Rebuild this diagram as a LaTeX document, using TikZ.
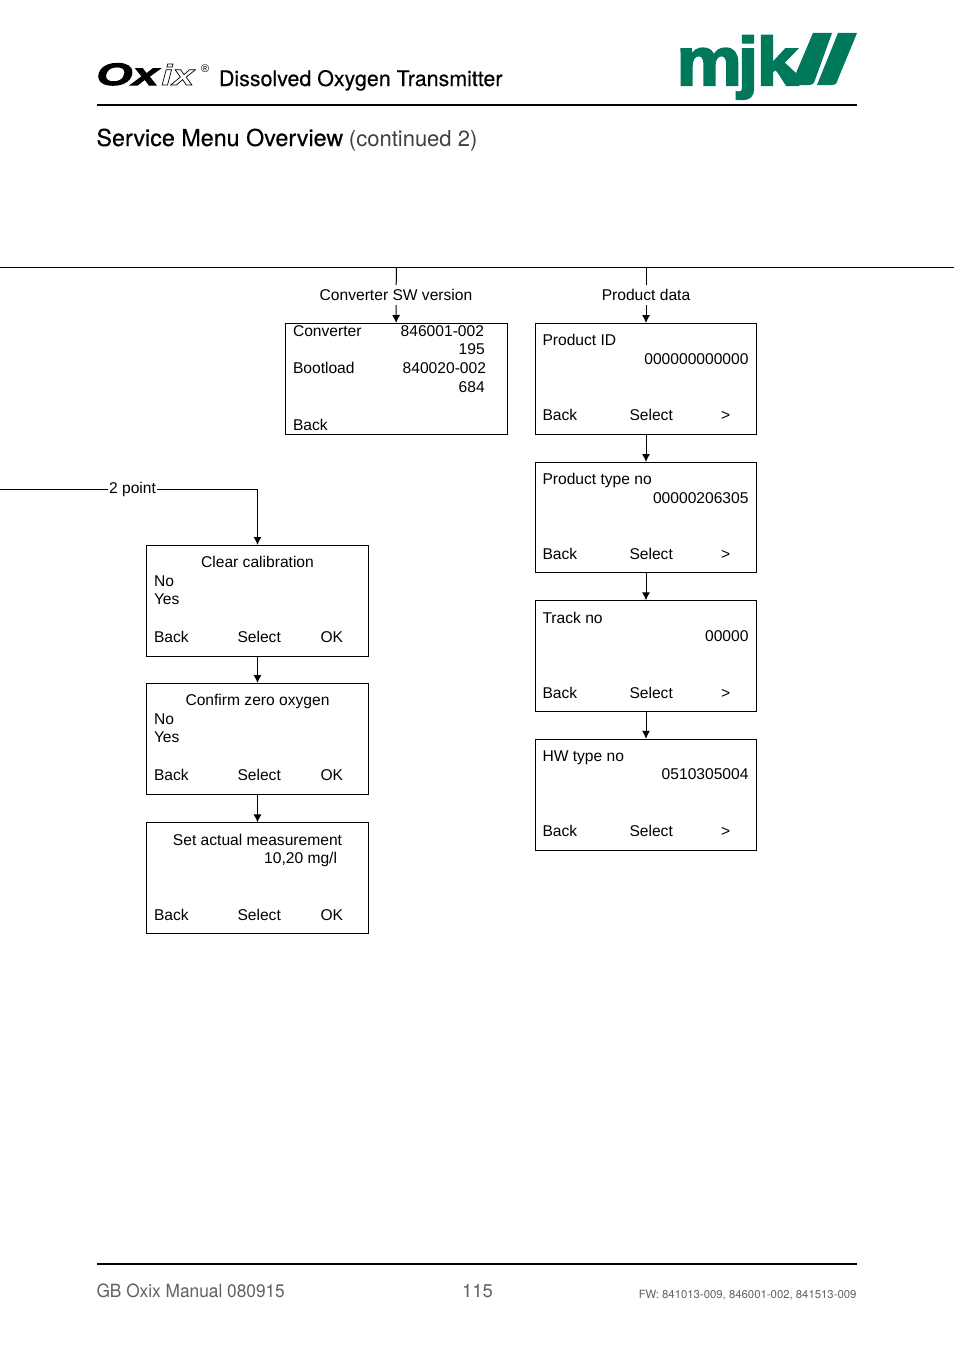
\documentclass[tikz,border=0pt]{standalone}
\usepackage{fontspec}
\usepackage{xcolor}
\usepackage{tikz}
\usetikzlibrary{arrows.meta}
\setmainfont{Liberation Sans}
\newfontfamily\headfont[FakeBold=0.35]{TeX Gyre Heros}
\newfontfamily\lightfont{TeX Gyre Heros}
\newfontfamily\footfont[FakeStretch=0.95]{TeX Gyre Heros}
\newfontfamily\logofont[FakeStretch=1.5,FakeBold=3.5]{Liberation Sans Bold Italic}
\newfontfamily\logoix[FakeStretch=1.35]{Liberation Sans Bold Italic}
\newfontfamily\mjkfont[FakeBold=3,FakeStretch=1.08]{Liberation Sans Bold}
\newcommand{\outlined}[1]{\special{pdf:code q 1 Tr 0.7 w}#1\special{pdf:code Q}}
\definecolor{mjkgreen}{HTML}{00785A}
\definecolor{footgray}{gray}{0.38}

\begin{document}
\begin{tikzpicture}[x=1pt,y=-1pt,>={Latex[length=8pt,width=8pt]},line width=1pt,
                    node distance = 138.5pt,
                    menu box/.style={draw,minimum width=222pt,minimum height=111pt,inner sep=0pt},
                    lbl/.style={inner sep=0pt,font=\fontsize{15.6}{18}\selectfont},
                    lft/.style={lbl,anchor=base west},
                    rgt/.style={lbl,anchor=base east},
                    mid/.style={lbl,anchor=base},
                    branch/.style={lbl,inner xsep=2pt,inner ysep=4pt}]
  \useasboundingbox (0,0) rectangle (954,1354);

  % header
  \node[inner sep=0pt,anchor=base west,font=\logofont\fontsize{31}{31}\selectfont] (oxlogo) at (96,85) {Ox};
  \node[inner sep=0pt,anchor=base west,font=\logoix\fontsize{29}{29}\selectfont] (ixlogo) at (161,85) {\outlined{ix}};
  \node[inner sep=0pt,anchor=base west,font=\fontsize{11}{11}\selectfont] (reg) at (200.5,72) {\textregistered};
  \node[inner sep=0pt,anchor=base west,font=\headfont\fontsize{21.4}{24}\selectfont] (title) at (218.5,86) {Dissolved Oxygen Transmitter};
  \node[inner sep=0pt,anchor=base west,font=\mjkfont\fontsize{68}{68}\selectfont,text=mjkgreen] (mjk) at (676,85) {m\kern-4pt j\kern-1.5pt k};
  \fill[mjkgreen] (813,33) -- (832,33) -- (815,80) .. controls (814,84) and (812,85) .. (808,85)
    -- (790,85) -- (775,70) -- (783,61) -- (796,73) -- cycle;
  \fill[mjkgreen] (838,33) -- (857,33) -- (838,79) .. controls (837,84) and (835,85) .. (831,85)
    -- (817,85) -- cycle;
  \coordinate (hl) at (97,105);
  \coordinate (hr) at (857,105);
  \draw[line width=2pt] (hl) -- (hr);
  \node[inner sep=0pt,anchor=base west] (head) at (96,146) {{\headfont\fontsize{23.3}{26}\selectfont Service Menu Overview} \kern3pt{\lightfont\fontsize{22}{26}\selectfont\color{black!75}(continued 2)}};

  % top rule
  \coordinate (rl) at (0,267.5);
  \coordinate (rr) at (954,267.5);
  \coordinate (conv top) at (396.5,267.5);
  \coordinate (prod top) at (646,267.5);
  \draw (rl) -- (rr);

  % right hand boxes
  \node[menu box] (conv) at (396.5,379) {};
  \node[menu box,minimum width=221pt] (p1) at (646,379) {};
  \node[menu box,minimum width=221pt,minimum height=110pt] (p2) [below of=p1] {};
  \node[menu box,minimum width=221pt] (p3) [below of=p2,yshift=-0.3pt] {};
  \node[menu box,minimum width=221pt] (p4) [below of=p3] {};

  \node[branch] (conv lbl) at (396,295) {Converter SW version};
  \node[branch] (prod lbl) at (646,295) {Product data};

  % left hand boxes
  \node[menu box] (c1) at (257.5,601) {};
  \node[menu box] (c2) [below of=c1,yshift=0.5pt] {};
  \node[menu box] (c3) [below of=c2,yshift=-0.9pt] {};

  \coordinate (pt left) at (0,489.5);
  \coordinate (pt bend) at (257.5,489.5);
  \node[branch,inner sep=1pt] (pt lbl) at (132.5,489.5) {2 point};

  % texts, Converter box
  \node[lft] (t1) at (292.5,336.5) {Converter};
  \node[rgt] (t2) at (484.5,336.5) {846001-002};
  \node[rgt] (t3) at (485.2,354) {195};
  \node[lft] (t4) at (292.5,373.5) {Bootload};
  \node[rgt] (t5) at (486.5,373.5) {840020-002};
  \node[rgt] (t6) at (485.2,392) {684};
  \node[lft] (t7) at (292.5,430) {Back};

  % texts, Product boxes
  \foreach \n/\cap/\val in {p1/Product ID/000000000000,p2/Product type no/00000206305,
                            p3/Track no/00000,p4/HW type no/0510305004} {
    \node[lft] (\n a) at ([shift={(7,22.8)}]\n.north west) {\cap};
    \node[rgt] (\n b) at ([shift={(-8,41)}]\n.north east) {\val};
    \node[lft] (\n c) at ([shift={(7,97.8)}]\n.north west) {Back};
    \node[lft] (\n d) at ([shift={(94,97.8)}]\n.north west) {Select};
    \node[lft] (\n e) at ([shift={(185.5,97.8)}]\n.north west) {>};
  }

  % texts, calibration boxes
  \foreach \n/\cap in {c1/Clear calibration,c2/Confirm zero oxygen,c3/Set actual measurement} {
    \node[mid] (\n a) at ([yshift=-22.8pt]\n.north) {\cap};
    \node[lft] (\n c) at ([shift={(7.5,97.8)}]\n.north west) {Back};
    \node[lft] (\n d) at ([shift={(91,97.8)}]\n.north west) {Select};
    \node[lft] (\n e) at ([shift={(174,97.8)}]\n.north west) {OK};
  }
  \foreach \n in {c1,c2} {
    \node[lft] (\n f) at ([shift={(7.5,41)}]\n.north west) {No};
    \node[lft] (\n g) at ([shift={(7.5,59.5)}]\n.north west) {Yes};
  }
  \node[rgt] (c3 b) at ([shift={(-31.5,41)}]c3.north east) {10,20 mg/l};

  % connectors
  \draw (conv top) -- (conv lbl);
  \draw[->] (conv lbl) -- (conv);
  \draw (prod top) -- (prod lbl);
  \draw[->] (prod lbl) -- (p1);
  \draw[->] (p1) -- (p2);
  \draw[->] (p2) -- (p3);
  \draw[->] (p3) -- (p4);
  \draw (pt left) -- (pt lbl);
  \draw[->] (pt lbl) -- (pt bend) -- (c1);
  \draw[->] (c1) -- (c2);
  \draw[->] (c2) -- (c3);

  % footer
  \coordinate (fl) at (97,1264);
  \coordinate (fr) at (857,1264);
  \draw[line width=2pt] (fl) -- (fr);
  \node[inner sep=0pt,anchor=base west,text=footgray,font=\footfont\fontsize{18.2}{22}\selectfont] (f1) at (96,1297) {GB Oxix Manual 080915};
  \node[inner sep=0pt,anchor=base,text=footgray,font=\lightfont\fontsize{18.5}{22}\selectfont] (f2) at (477.5,1297) {115};
  \node[inner sep=0pt,anchor=base east,text=footgray,font=\lightfont\fontsize{11.35}{14}\selectfont] (f3) at (857,1298) {FW: 841013-009, 846001-002, 841513-009};
\end{tikzpicture}
\end{document}
